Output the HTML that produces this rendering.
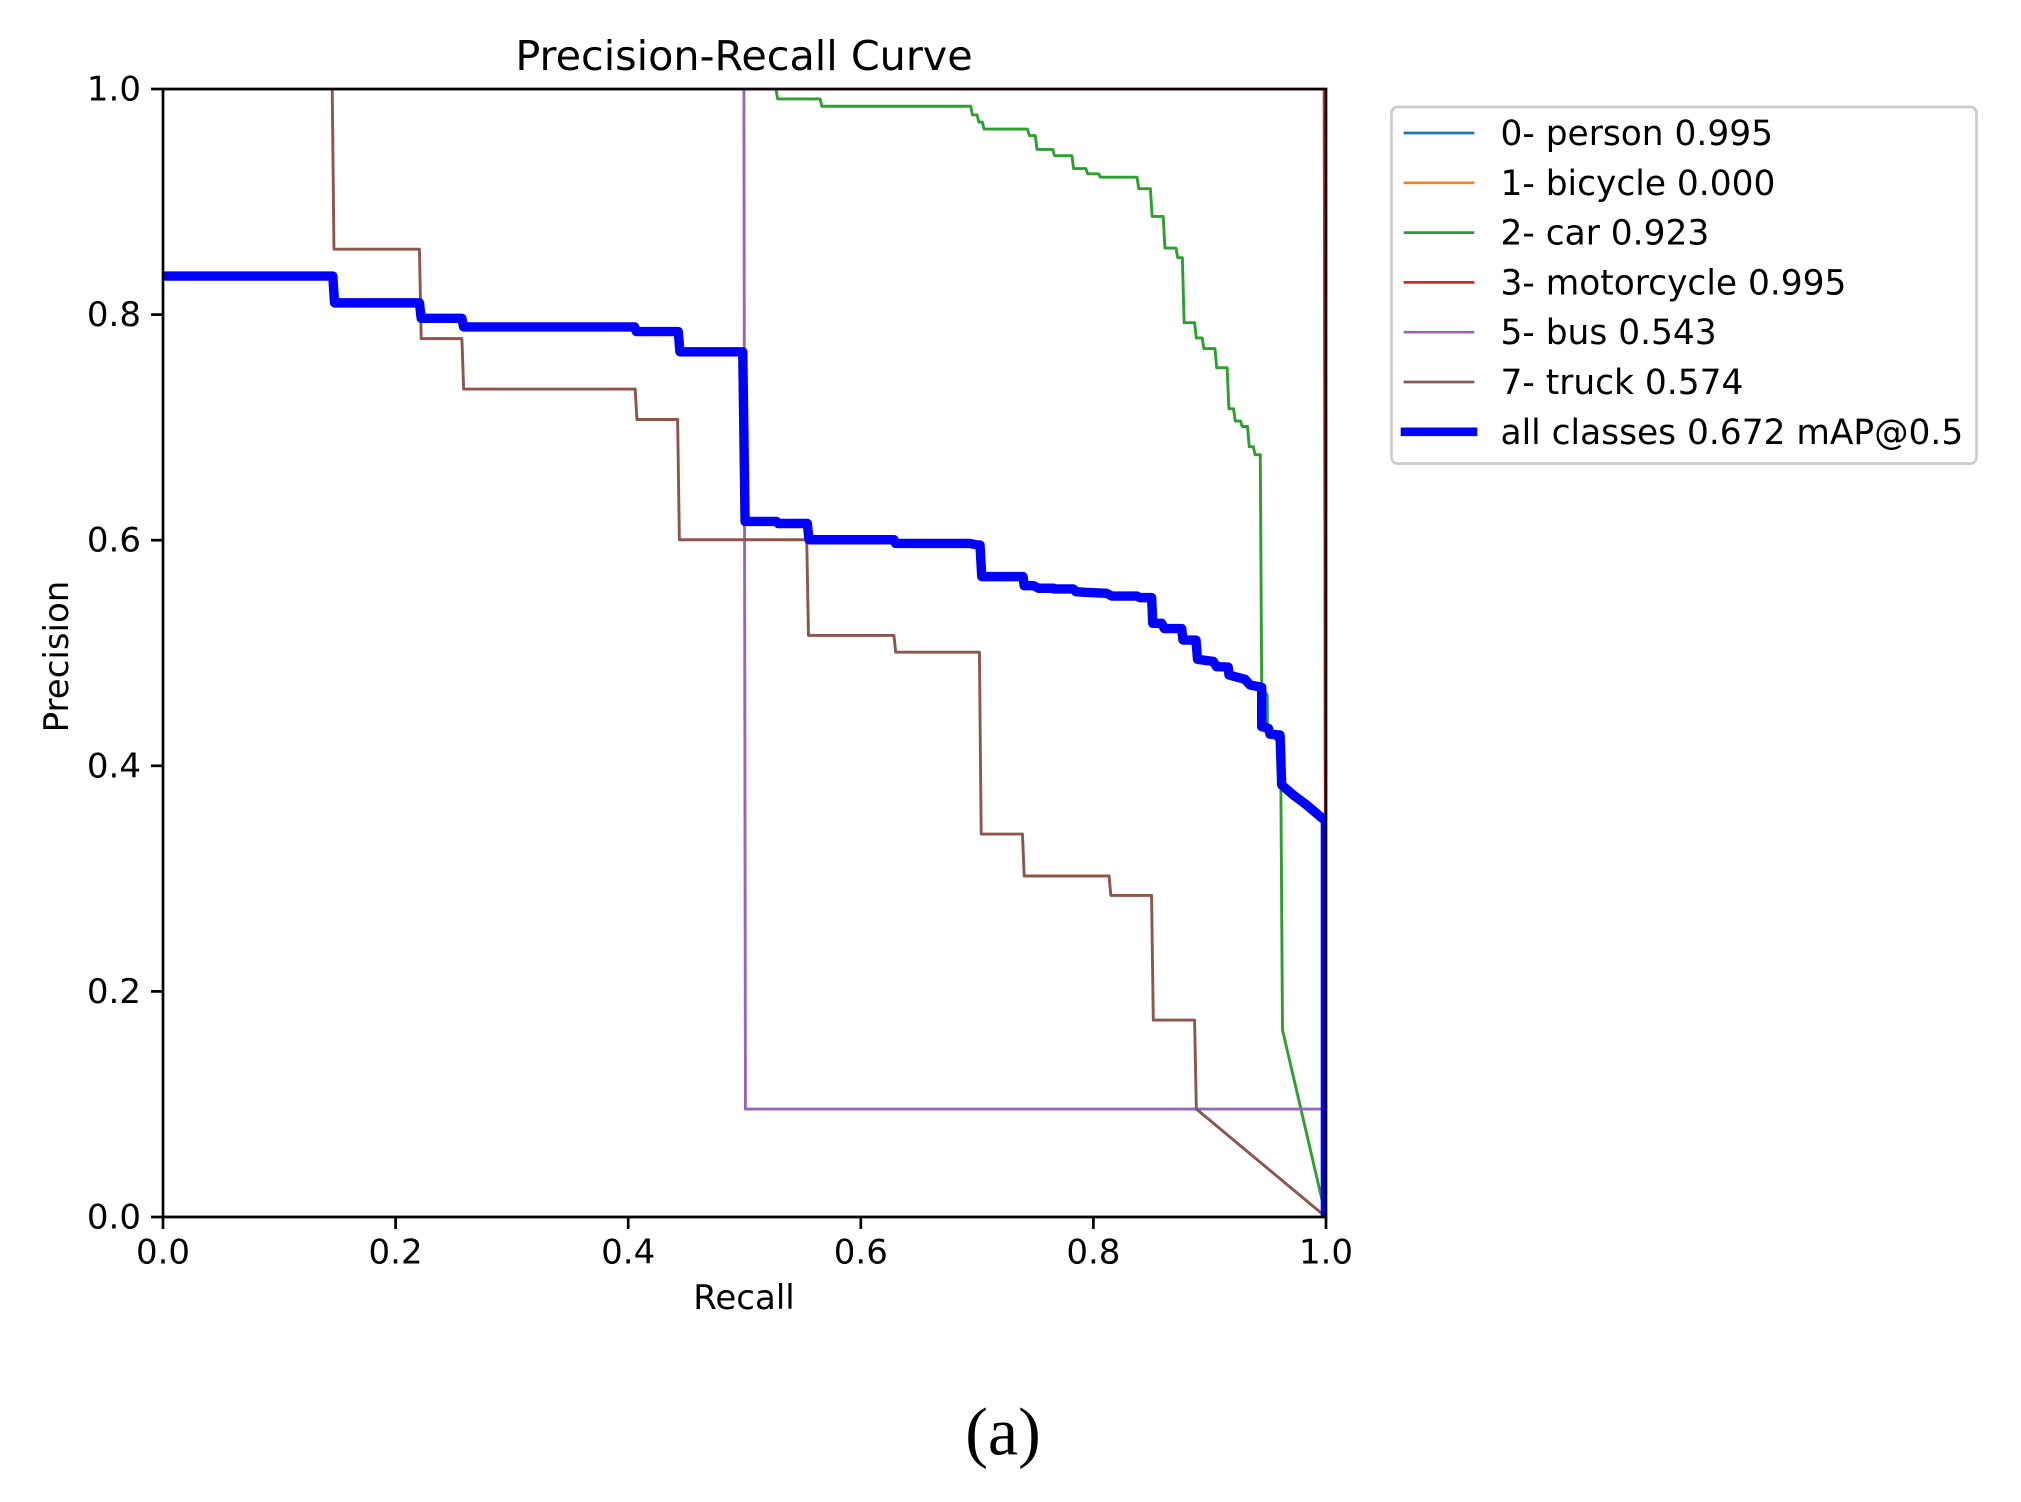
<!DOCTYPE html>
<html lang="en">
<head>
<meta charset="utf-8">
<title>Precision-Recall Curve</title>
<style>
html,body{margin:0;padding:0;background:#fff;width:2021px;height:1502px;overflow:hidden}
svg{display:block}
text{font-family:"DejaVu Sans","Liberation Sans",sans-serif;fill:#000}
</style>
</head>
<body>
<svg id="chart" xmlns="http://www.w3.org/2000/svg" width="2021" height="1502" viewBox="0 0 2021 1502">
  <rect x="0" y="0" width="2021" height="1502" fill="#ffffff"/>
  <defs>
    <clipPath id="plot-clip"><rect x="163" y="89" width="1163" height="1128"/></clipPath>
  </defs>
  <g id="series" clip-path="url(#plot-clip)"></g>
  <g id="axes"></g>
  <text x="744" y="70" font-size="41.3" text-anchor="middle">Precision-Recall Curve</text>
  <text x="744" y="1309" font-size="34" text-anchor="middle">Recall</text>
  <text transform="translate(68,656.5) rotate(-90)" font-size="34" text-anchor="middle">Precision</text>
  <g id="legend"></g>
  <text x="1003" y="1454.5" font-size="68" text-anchor="middle" style="font-family:'Liberation Serif',serif">(a)</text>
</svg>
<script>
const xTickLabels = ["0.0", "0.2", "0.4", "0.6", "0.8", "1.0"];
const yTickLabels = ["0.0", "0.2", "0.4", "0.6", "0.8", "1.0"];

const personRecall = [0, 0.9985, 1];
const personPrecision = [1, 1, 0];
const bicycleRecall = [0, 1];
const bicyclePrecision = [0, 0];
const motorcycleRecall = [0, 0.9985, 1];
const motorcyclePrecision = [1, 1, 0];
const busRecall = [0, 0.4995, 0.5008, 1, 1];
const busPrecision = [1, 1, 0.0957, 0.0957, 0];
const carRecall = [0, 0.527, 0.5285, 0.565, 0.5665, 0.6945, 0.696, 0.7, 0.7015, 0.7045, 0.706, 0.7432, 0.745, 0.75, 0.7515, 0.765, 0.7665, 0.7815, 0.783, 0.7935, 0.795, 0.8045, 0.806, 0.8375, 0.839, 0.849, 0.8505, 0.86, 0.8615, 0.871, 0.8725, 0.8765, 0.878, 0.887, 0.8885, 0.8935, 0.895, 0.9045, 0.906, 0.915, 0.9165, 0.9205, 0.922, 0.9265, 0.928, 0.9325, 0.934, 0.9375, 0.939, 0.9435, 0.9447, 0.9495, 0.9497, 0.9605, 0.9612, 0.9626, 1];
const carPrecision = [1, 1, 0.9912, 0.9912, 0.9847, 0.9847, 0.977, 0.977, 0.9707, 0.9707, 0.9645, 0.9645, 0.9587, 0.9587, 0.9464, 0.9464, 0.9409, 0.9409, 0.9295, 0.9295, 0.9248, 0.9248, 0.9218, 0.9218, 0.9116, 0.9116, 0.887, 0.887, 0.859, 0.859, 0.8505, 0.8505, 0.7928, 0.7928, 0.7793, 0.7793, 0.7699, 0.7699, 0.7529, 0.7529, 0.7165, 0.7165, 0.7056, 0.7056, 0.7008, 0.7008, 0.6829, 0.6829, 0.6758, 0.6758, 0.47, 0.4628, 0.43, 0.42, 0.38, 0.1658, 0];
const truckRecall = [0, 0.1455, 0.147, 0.2205, 0.222, 0.257, 0.2585, 0.406, 0.4075, 0.4425, 0.444, 0.5535, 0.555, 0.6285, 0.63, 0.702, 0.7035, 0.739, 0.7405, 0.8135, 0.815, 0.85, 0.8515, 0.887, 0.8885, 1];
const truckPrecision = [1, 1, 0.858, 0.858, 0.7787, 0.7787, 0.734, 0.734, 0.707, 0.707, 0.6004, 0.6004, 0.5156, 0.5156, 0.5007, 0.5007, 0.3395, 0.3395, 0.3023, 0.3023, 0.2851, 0.2851, 0.1746, 0.1746, 0.0957, 0];
const allRecall = [0, 0.146, 0.1475, 0.2205, 0.222, 0.257, 0.2585, 0.4055, 0.407, 0.443, 0.4445, 0.4985, 0.5005, 0.5275, 0.529, 0.554, 0.5555, 0.6285, 0.63, 0.694, 0.7, 0.7025, 0.704, 0.7395, 0.7405, 0.7485, 0.7528, 0.7656, 0.766, 0.7827, 0.785, 0.7928, 0.8114, 0.8157, 0.8372, 0.84, 0.8501, 0.851, 0.8587, 0.861, 0.8759, 0.877, 0.8882, 0.8895, 0.903, 0.9059, 0.9159, 0.9166, 0.9304, 0.9347, 0.9447, 0.9447, 0.9504, 0.9519, 0.9605, 0.9619, 0.9719, 0.9834, 0.9969, 0.9995, 0.9995];
const allPrecision = [0.8342, 0.8342, 0.8104, 0.8104, 0.7967, 0.7967, 0.7891, 0.7891, 0.785, 0.785, 0.767, 0.767, 0.6166, 0.6166, 0.6148, 0.6148, 0.6004, 0.6004, 0.5971, 0.5971, 0.5958, 0.5958, 0.5677, 0.5677, 0.5597, 0.5597, 0.5574, 0.5574, 0.5568, 0.5568, 0.5544, 0.5538, 0.5529, 0.5505, 0.5505, 0.5491, 0.5491, 0.5263, 0.5263, 0.5217, 0.5217, 0.5115, 0.5115, 0.4944, 0.4925, 0.4879, 0.4875, 0.4805, 0.4767, 0.4716, 0.4696, 0.4347, 0.4332, 0.428, 0.4273, 0.383, 0.3741, 0.3652, 0.3534, 0.352, 0];

const seriesNames = ["person", "bicycle", "car", "motorcycle", "bus", "truck", "all-classes"];
const seriesRecalls = [personRecall, bicycleRecall, carRecall, motorcycleRecall, busRecall, truckRecall, allRecall];
const seriesPrecisions = [personPrecision, bicyclePrecision, carPrecision, motorcyclePrecision, busPrecision, truckPrecision, allPrecision];
const legendLabels = ["0- person 0.995", "1- bicycle 0.000", "2- car 0.923", "3- motorcycle 0.995", "5- bus 0.543", "7- truck 0.574", "all classes 0.672 mAP@0.5"];
const seriesColors = ["#1f77b4", "#ff7f0e", "#2ca02c", "#d62728", "#9467bd", "#8c564b", "#0000ff"];

const NS = "http://www.w3.org/2000/svg";
const plot = {left: 163, right: 1326, top: 89, bottom: 1217};
function xScale(v) { return plot.left + v * (plot.right - plot.left); }
function yScale(v) { return plot.bottom - v * (plot.bottom - plot.top); }
function make(tag, attrs) {
  const el = document.createElementNS(NS, tag);
  for (const k in attrs) el.setAttribute(k, attrs[k]);
  return el;
}

const seriesGroup = document.getElementById("series");
seriesNames.forEach(function (name, i) {
  const pts = seriesRecalls[i].map(function (r, j) {
    return xScale(r).toFixed(2) + "," + yScale(seriesPrecisions[i][j]).toFixed(2);
  }).join(" ");
  const line = make("polyline", {
    points: pts, fill: "none", stroke: seriesColors[i],
    "stroke-width": i === 6 ? 9.4 : 2.9,
    "stroke-linejoin": "round", "stroke-linecap": "square"
  });
  
  
  seriesGroup.appendChild(line);
});

const axes = document.getElementById("axes");
xTickLabels.forEach(function (label) {
  const x = xScale(parseFloat(label));
  const tick = make("line", {x1: x, x2: x, y1: plot.bottom, y2: plot.bottom + 12, stroke: "#000", "stroke-width": 2.7});
  
  
  axes.appendChild(tick);
  const text = make("text", {x: x, y: 1263.5, "font-size": 34, "text-anchor": "middle"});
  text.textContent = label;
  
  
  axes.appendChild(text);
});
yTickLabels.forEach(function (label) {
  const y = yScale(parseFloat(label));
  const tick = make("line", {x1: plot.left - 12, x2: plot.left, y1: y, y2: y, stroke: "#000", "stroke-width": 2.7});
  
  
  axes.appendChild(tick);
  const text = make("text", {x: 141, y: y + 11.5, "font-size": 34, "text-anchor": "end"});
  text.textContent = label;
  
  
  axes.appendChild(text);
});
const frame = make("rect", {x: plot.left, y: plot.top, width: plot.right - plot.left, height: plot.bottom - plot.top, fill: "none", stroke: "#000", "stroke-width": 2.7});


axes.appendChild(frame);

const legend = document.getElementById("legend");
const legendBox = make("rect", {x: 1391.5, y: 107, width: 585, height: 356.5, rx: 6, ry: 6, fill: "#fff", stroke: "#cccccc", "stroke-width": 2.7});


legend.appendChild(legendBox);
legendLabels.forEach(function (label, i) {
  const rowY = 133 + i * 49.8;
  const handle = make("line", {x1: 1405, x2: 1473, y1: rowY, y2: rowY, stroke: seriesColors[i], "stroke-width": i === 6 ? 8.6 : 2.7, "stroke-linecap": "square"});
  
  
  legend.appendChild(handle);
  const text = make("text", {x: 1500.5, y: rowY + 12, "font-size": 34.4});
  text.textContent = label;
  
  
  legend.appendChild(text);
});
</script>
</body>
</html>
